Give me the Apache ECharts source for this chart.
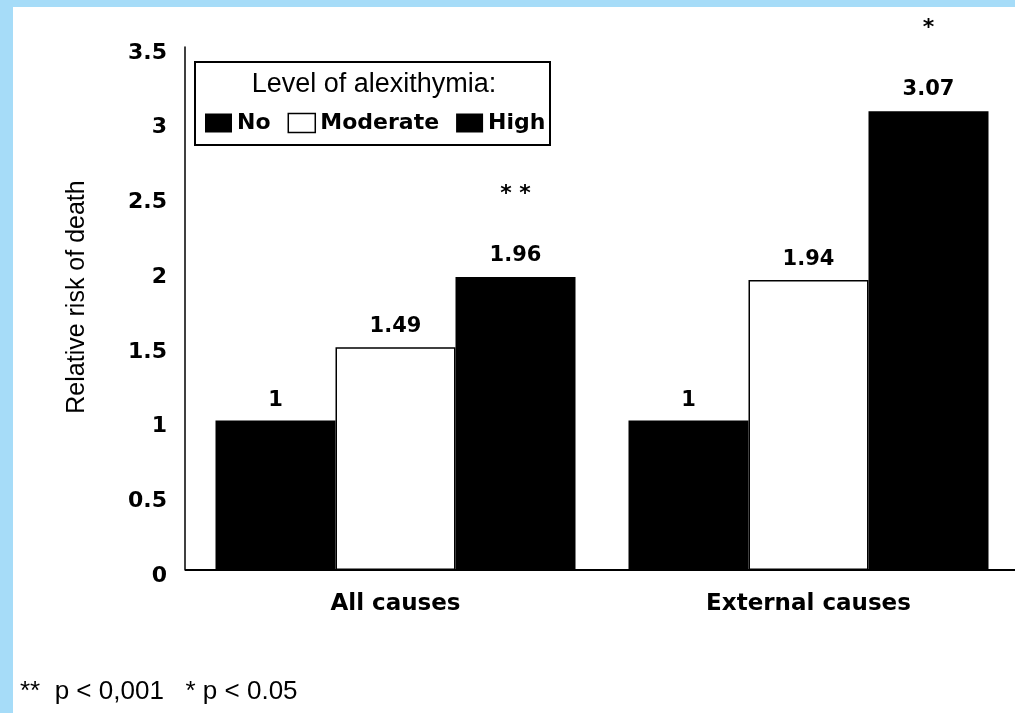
<!DOCTYPE html>
<html>
<head>
<meta charset="utf-8">
<script src="https://cdn.jsdelivr.net/npm/echarts@6/dist/echarts.min.js"></script>
<style>
html,body{margin:0;padding:0;background:#fff;}
#chart{width:1015px;height:713px;}
</style>
</head>
<body>
<div id="chart"></div>
<script>
const categories = ['All causes', 'External causes'];
const noValues = [1, 1];
const moderateValues = [1.49, 1.94];
const highValues = [1.96, 3.07];
const significance = ['* *', '*'];
const yTickLabels = ['0', '0.5', '1', '1.5', '2', '2.5', '3', '3.5'];
const legendTitle = 'Level of alexithymia:';
const yAxisTitle = 'Relative risk of death';
const footnote = '**  p < 0,001   * p < 0.05';

const BOLD = 'DejaVu Sans';

const labelBase = {
  show: true,
  position: 'top',
  distance: 10,
  color: '#000',
  fontFamily: BOLD,
  fontWeight: 'bold',
  fontSize: 21
};

const chart = echarts.init(document.getElementById('chart'), null, {renderer: 'canvas'});
chart.setOption({
  backgroundColor: '#fff',
  animation: false,
  grid: {left: 189, right: -8, top: 47, bottom: 143, containLabel: false},
  legend: {
    left: 200,
    top: 107,
    itemWidth: 27,
    itemHeight: 19,
    itemGap: 17,
    icon: 'rect',
    selectedMode: false,
    textStyle: {fontFamily: BOLD, fontWeight: 'bold', fontSize: 22, color: '#000'},
    data: [
      {name: 'No', itemStyle: {color: '#000', borderWidth: 0}},
      {name: 'Moderate', itemStyle: {color: '#fff', borderColor: '#000', borderWidth: 1.5}},
      {name: 'High', itemStyle: {color: '#000', borderWidth: 0}}
    ]
  },
  xAxis: {
    type: 'category',
    data: categories,
    axisLine: {show: true, lineStyle: {color: '#000', width: 2}},
    axisTick: {show: false},
    axisLabel: {color: '#000', fontFamily: BOLD, fontWeight: 'bold', fontSize: 23, margin: 23}
  },
  yAxis: {
    type: 'value',
    min: 0,
    max: 3.5,
    interval: 0.5,
    offset: 4,
    axisLine: {show: true, lineStyle: {color: '#000', width: 1.5}},
    axisTick: {show: false},
    splitLine: {show: false},
    axisLabel: {
      color: '#000', fontFamily: BOLD, fontWeight: 'bold', fontSize: 22, margin: 18,
      verticalAlign: 'top',
      lineHeight: 12,
      formatter: (v) => yTickLabels[Math.round(v / 0.5)]
    }
  },
  series: [
    {
      name: 'No', type: 'bar', data: noValues, barWidth: 120, barGap: '0%',
      itemStyle: {color: '#000', borderColor: '#000', borderWidth: 1.5},
      label: labelBase
    },
    {
      name: 'Moderate', type: 'bar', data: moderateValues, barWidth: 120, barGap: '0%',
      itemStyle: {color: '#fff', borderColor: '#000', borderWidth: 1.5},
      label: labelBase
    },
    {
      name: 'High', type: 'bar', data: highValues, barWidth: 120, barGap: '0%',
      itemStyle: {color: '#000', borderColor: '#000', borderWidth: 1.5},
      label: Object.assign({}, labelBase, {
        formatter: (p) => '{s|' + significance[p.dataIndex] + '}\n{v|' + p.value + '}',
        rich: {
          s: {fontFamily: BOLD, fontWeight: 'bold', fontSize: 22, color: '#000', lineHeight: 98},
          v: {fontFamily: BOLD, fontWeight: 'bold', fontSize: 21, color: '#000', lineHeight: 24}
        }
      })
    }
  ],
  graphic: [
    {type: 'rect', z: 100, silent: true, shape: {x: 0, y: 0, width: 1015, height: 7}, style: {fill: '#a6dcf8'}},
    {type: 'rect', z: 100, silent: true, shape: {x: 0, y: 0, width: 13, height: 713}, style: {fill: '#a6dcf8'}},
    {type: 'rect', silent: true, shape: {x: 195, y: 62, width: 355, height: 83}, style: {fill: 'none', stroke: '#000', lineWidth: 2}},
    {type: 'line', silent: true, shape: {x1: 185, y1: 570, x2: 190, y2: 570}, style: {stroke: '#000', lineWidth: 2}},
    {type: 'text', silent: true, x: 374, y: 85, style: {text: legendTitle, fill: '#000', font: '27px "Liberation Sans"', textAlign: 'center', textVerticalAlign: 'middle'}},
    {type: 'text', silent: true, x: 77, y: 297, rotation: Math.PI / 2, style: {text: yAxisTitle, fill: '#000', font: '25px "Liberation Sans"', textAlign: 'center', textVerticalAlign: 'middle'}},
    {type: 'text', silent: true, x: 20, y: 692, style: {text: footnote, fill: '#000', font: '26px "Liberation Sans"', textAlign: 'left', textVerticalAlign: 'middle'}}
  ]
});
</script>
</body>
</html>
